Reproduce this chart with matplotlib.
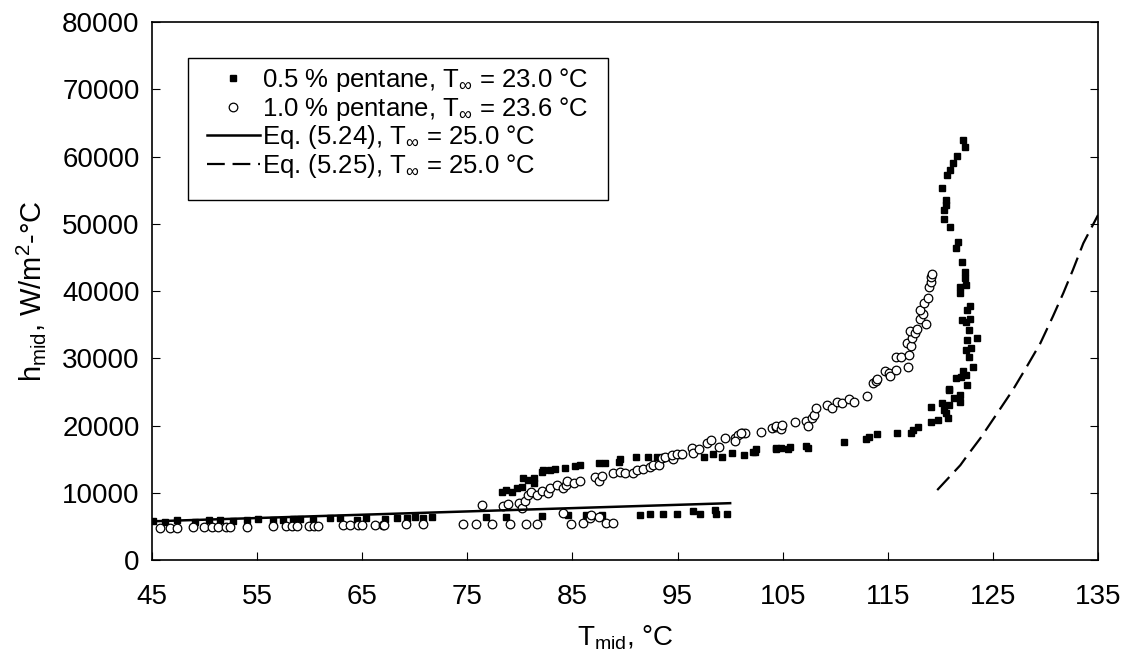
import matplotlib
matplotlib.use("Agg")
import matplotlib.pyplot as plt
from matplotlib.patches import Rectangle

plt.rcParams['font.family'] = ['Liberation Sans', 'DejaVu Sans']
plt.rcParams['mathtext.fontset'] = 'custom'
plt.rcParams['mathtext.rm'] = 'Liberation Sans'
plt.rcParams['mathtext.it'] = 'Liberation Sans'
plt.rcParams['mathtext.fallback'] = 'stixsans'

# 0.5 % pentane (filled squares)
t_05 = [45.1, 46.2, 47.4, 49.1, 50.4, 51.5, 52.7, 54.0, 55.1, 56.5, 57.5, 58.4,
        59.1, 60.3, 61.9, 62.9, 64.5, 65.4, 67.2, 68.3, 69.3, 70.0, 70.8, 71.6,
        76.8, 78.7, 82.1, 84.6, 86.3, 87.8, 91.4, 92.4, 93.6, 94.9, 96.5, 97.1,
        98.6, 98.7, 99.7,
        78.3, 78.7, 79.2, 79.7, 80.2, 80.3, 80.8, 81.3, 81.3, 82.1, 82.2, 82.9,
        83.3, 84.3, 85.2, 85.7, 87.5, 88.1, 89.4, 89.5, 91.0, 92.2, 93.0, 94.0,
        95.2, 97.5, 98.4, 99.2, 100.2, 101.3, 102.4, 104.4,
        102.2, 102.5, 104.4, 104.8, 105.5, 105.7, 107.2, 107.4, 110.8, 112.9,
        113.2, 114.0, 115.9, 117.2, 117.4, 117.9, 119.1, 119.8, 119.1, 120.2,
        120.8, 120.7, 120.3,
        120.5, 120.8, 120.8, 121.3, 121.5, 121.9, 121.9, 122.0, 122.4, 122.5,
        123.1, 122.2, 122.4, 122.9, 122.7, 122.5, 123.5, 122.7, 122.1, 122.4,
        122.8, 122.8, 122.5, 121.9, 121.9, 122.4, 122.3, 122.3, 122.1, 121.5,
        121.7, 120.9, 120.3, 120.3, 120.5, 120.5, 120.2, 120.6, 120.9, 121.2,
        121.6, 122.3, 122.2]
h_05 = [5800, 5600, 5900, 5700, 5900, 6000, 5800, 5950, 6100, 5900, 6000, 6050,
        6100, 5950, 6200, 6250, 6000, 6200, 6100, 6300, 6200, 6450, 6300, 6450,
        6440, 6440, 6540, 6690, 6690, 6690, 6690, 6800, 6800, 6800, 7330, 6840,
        7430, 6840, 6840,
        10160, 10410, 10160, 10660, 10900, 12150, 11900, 12150, 11400, 13130,
        13380, 13380, 13490, 13730, 13980, 14130, 14380, 14470, 14620, 14970,
        15270, 15360, 15270, 15360, 15610, 15360, 15720, 15360, 15870, 15610,
        16100, 16610,
        16010, 16460, 16460, 16610, 16460, 16760, 16950, 16610, 17500, 17950,
        18250, 18740, 18930, 18930, 19330, 19730, 20570, 20820, 22800, 23300,
        25280, 21070, 22300,
        21810, 23050, 25380, 24040, 27020, 23540, 24540, 27170, 27510, 26020,
        28740, 28150, 31230, 31480, 30230, 32710, 32960, 34200, 35690, 35440,
        35790, 37770, 37180, 39660, 40640, 40890, 41890, 42870, 44360, 46350,
        47330, 49470, 50660, 52050, 52790, 53530, 55270, 57250, 57990, 58980,
        60070, 61360, 62460]

# 1.0 % pentane (open circles)
t_10 = [45.8, 46.7, 47.4, 48.9, 49.9, 50.7, 51.3, 52.0, 52.4, 54.0, 56.5, 57.7,
        58.3, 58.8, 59.9, 60.4, 60.8, 63.2, 63.8, 64.6, 65.0, 66.2, 67.0, 67.1,
        69.2, 70.8, 74.6, 75.8, 77.3, 76.4,
        78.4, 78.9, 79.1, 79.9, 80.2, 80.5, 80.6, 80.8, 81.1, 81.6, 81.6, 82.1,
        82.7, 82.9, 83.5, 84.1, 84.4, 84.5, 84.1, 84.9, 85.1, 85.7, 86.0, 86.7,
        86.8, 87.5, 87.1, 87.5, 87.8, 88.2, 88.9, 88.9, 89.5, 90.0, 90.8, 91.1,
        91.7, 92.4, 92.7, 93.2, 93.5, 93.8, 94.6, 94.5, 94.9, 95.4, 96.4, 96.5,
        97.0, 97.8, 98.2, 98.9, 99.5, 100.5, 100.7, 101.1, 101.4, 102.9, 104.0,
        104.4,
        100.5, 101.0, 104.4, 104.8, 104.9, 106.2, 107.2, 107.4, 107.8, 108.0,
        108.2, 109.2, 109.7, 110.2, 110.6, 111.3, 111.8, 113.0, 113.6, 113.9,
        114.0, 114.7, 115.1, 115.2, 115.8, 116.9,
        115.8, 116.3, 117.0, 116.8, 117.2, 117.3, 117.1, 117.6, 117.8, 118.1,
        118.3, 118.1, 118.4, 118.6, 118.8, 118.9, 119.1, 119.1, 119.2]
h_10 = [4750, 4750, 4800, 4860, 4860, 4860, 4860, 4860, 4860, 4950, 5050, 5050,
        5050, 5050, 5050, 5050, 5050, 5150, 5150, 5150, 5150, 5150, 5150, 5150,
        5300, 5300, 5300, 5300, 5350, 8180,
        8030, 8330, 5350, 8430, 7690, 8820, 5350, 9670, 10160, 5350, 9670, 10300,
        10000, 10660, 11150, 10660, 11150, 11750, 7040, 5350, 11400, 11750, 5450,
        6200, 6690, 6440, 12300, 11800, 12490, 5450, 5450, 12890, 13130, 12980,
        12980, 13380, 13490, 13870, 14130, 14130, 15120, 15360, 14970, 15610,
        15760, 15760, 16610, 15870, 16460, 17350, 17840, 16850, 18100, 18100,
        18590, 18840, 18930, 19080, 19580, 19820,
        17690, 18930, 19920, 19430, 20070, 20570, 20720, 19920, 21070, 21560,
        22650, 23050, 22650, 23540, 23390, 23890, 23450, 24390, 26370, 26660,
        26870, 28150, 27760, 27360, 28250, 28650,
        30140, 30140, 30480, 32220, 31870, 32960, 34100, 33710, 34310, 35790,
        36580, 37180, 38260, 35090, 38920, 40640, 41380, 42130, 42530]

# Eq. (5.24)
t_eq24 = [45.0, 100.0]
h_eq24 = [5750, 8450]

# Eq. (5.25)
t_eq25 = [119.7, 121.9, 122.5, 123.8, 125.4, 126.9, 128.2, 129.5, 130.7, 131.7,
          132.6, 133.6, 134.5, 135.0]
h_eq25 = [10400, 14100, 15400, 18100, 21800, 25300, 28700, 32200, 36200, 39700,
          43100, 47100, 49800, 51300]

x_ticks = [45, 55, 65, 75, 85, 95, 105, 115, 125, 135]
y_ticks = [0, 10000, 20000, 30000, 40000, 50000, 60000, 70000, 80000]

fig = plt.figure(figsize=(11.32, 6.61), dpi=100)
ax = fig.add_axes([0.1343, 0.1528, 0.8357, 0.8139])

ax.plot(t_05, h_05, 's', color='black', markersize=4.4, linestyle='none',
        label='0.5 % pentane, T$_{\\infty}$ = 23.0 °C')
ax.plot(t_10, h_10, 'o', markerfacecolor='white', markeredgecolor='black',
        markeredgewidth=0.9, markersize=6.2, linestyle='none',
        label='1.0 % pentane, T$_{\\infty}$ = 23.6 °C')
ax.plot(t_eq24, h_eq24, '-', color='black', linewidth=1.8,
        label='Eq. (5.24), T$_{\\infty}$ = 25.0 °C')
ax.plot(t_eq25, h_eq25, color='black', linewidth=1.6, dashes=(8, 3.5),
        label='Eq. (5.25), T$_{\\infty}$ = 25.0 °C')

ax.set_xlim(45, 135)
ax.set_ylim(0, 80000)
ax.set_xticks(x_ticks)
ax.set_yticks(y_ticks)
ax.set_xticklabels([str(v) for v in x_ticks], fontsize=20)
ax.set_yticklabels([str(v) for v in y_ticks], fontsize=20)
ax.tick_params(axis='x', direction='in', length=6, width=0.8, pad=17)
ax.tick_params(axis='y', direction='in', length=6, width=0.8, pad=9, right=True)
for s in ax.spines.values():
    s.set_linewidth(1.2)

ax.set_xlabel('T$_{\\mathrm{mid}}$, °C', fontsize=20, labelpad=10)
ax.set_ylabel('h$_{\\mathrm{mid}}$, W/m$^{2}$-°C', fontsize=21, labelpad=10)

# legend box drawn separately (taller bottom margin than the entries need)
ax.add_patch(Rectangle((0.038, 0.669), 0.444, 0.264, transform=ax.transAxes,
                       facecolor='white', edgecolor='black', linewidth=1.0,
                       zorder=4))
leg = ax.legend(loc='upper left', bbox_to_anchor=(0.058, 0.918), fontsize=18.5,
                frameon=False, handlelength=2.06, handletextpad=0.08,
                labelspacing=0.02, borderpad=0, borderaxespad=0)
leg.set_zorder(5)

fig.savefig('out.png', dpi=100)
